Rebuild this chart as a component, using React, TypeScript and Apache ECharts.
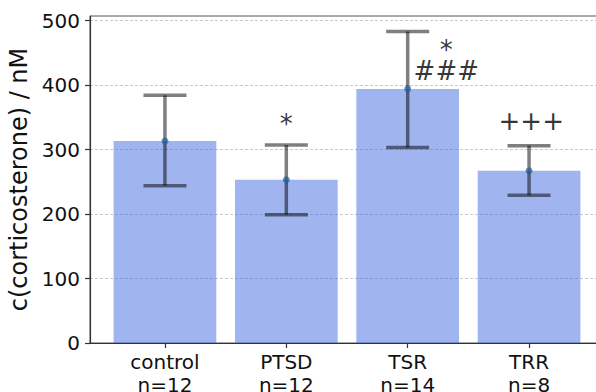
import React, { useEffect, useRef } from "react";
import * as echarts from "echarts";

const categories = ["control", "PTSD", "TSR", "TRR"];
const sampleSizes = [12, 12, 14, 8];
const means = [313, 253, 394, 267];
const errLow = [244, 199, 303, 229];
const errHigh = [384, 307, 483, 306];
const yTicks = [0, 100, 200, 300, 400, 500];
const xTicks = [0, 1, 2, 3];

const annotationText = ["*", "*", "###", "+++"];
const annotationX = [1.0, 2.318, 2.318, 3.018];
const annotationY = [339, 455, 421, 344];

const FONT = "DejaVu Sans";

export default function App() {
  const ref = useRef<HTMLDivElement>(null);
  useEffect(() => {
    if (!ref.current) return;
    const chart = echarts.init(ref.current, null, { renderer: "svg" });
    chart.setOption({
      animation: false,
      backgroundColor: "#ffffff",
      grid: {
        left: 90,
        top: 16,
        width: 514,
        height: 327,
        show: true,
        borderColor: "#555",
        borderWidth: 1,
        backgroundColor: "transparent",
        containLabel: false,
        outerBoundsMode: "none",
      },
      xAxis: {
        type: "value",
        min: -0.6175,
        max: 3.6175,
        splitLine: { show: false },
        axisLine: { show: true, onZero: false, lineStyle: { color: "#333", width: 1.2 } },
        axisTick: { show: true, customValues: xTicks, length: 5, lineStyle: { color: "#333", width: 1.2 } },
        axisLabel: {
          customValues: xTicks,
          margin: 7,
          fontSize: 20,
          fontFamily: FONT,
          color: "#111",
          lineHeight: 23,
          formatter: (v: number) => {
            const i = Math.round(v);
            return categories[i] + "\nn=" + sampleSizes[i];
          },
        },
      },
      yAxis: {
        type: "value",
        min: 0,
        max: 507,
        interval: 100,
        name: "c(corticosterone) / nM",
        nameLocation: "middle",
        nameGap: 47,
        nameTextStyle: { fontSize: 24, fontFamily: FONT, color: "#111" },
        axisLine: { show: true, onZero: false, lineStyle: { color: "#333", width: 1.2 } },
        axisTick: { show: true, customValues: yTicks, length: 5, lineStyle: { color: "#333", width: 1.2 } },
        axisLabel: {
          customValues: yTicks,
          margin: 10,
          fontSize: 20,
          fontFamily: FONT,
          color: "#111",
        },
        splitLine: {
          show: true,
          lineStyle: { color: "#bbbbbb", type: [3, 2], width: 0.8 },
        },
      },
      series: [
        {
          type: "bar",
          data: means.map((m, i) => [i, m]),
          barWidth: 102.7,
          itemStyle: { color: "rgba(65,105,225,0.5)" },
          z: 2,
        },
        {
          type: "custom",
          data: errLow.map((lo, i) => [i, lo, errHigh[i]]),
          encode: { x: 0, y: [1, 2] },
          z: 3,
          renderItem: (params: any, api: any) => {
            const x = api.value(0);
            const lo = api.coord([x, api.value(1)]);
            const hi = api.coord([x, api.value(2)]);
            const half = 21.5;
            const style = { stroke: "rgba(0,0,0,0.5)", lineWidth: 3.5 };
            return {
              type: "group",
              children: [
                { type: "line", shape: { x1: lo[0], y1: lo[1], x2: hi[0], y2: hi[1] }, style },
                { type: "line", shape: { x1: hi[0] - half, y1: hi[1], x2: hi[0] + half, y2: hi[1] }, style },
                { type: "line", shape: { x1: lo[0] - half, y1: lo[1], x2: lo[0] + half, y2: lo[1] }, style },
              ],
            };
          },
        },
        {
          type: "scatter",
          data: means.map((m, i) => [i, m]),
          symbolSize: 7,
          itemStyle: { color: "rgba(31,95,160,0.85)" },
          z: 4,
        },
        {
          type: "scatter",
          data: annotationText.map((t, i) => ({ value: [annotationX[i], annotationY[i]], name: t })),
          symbolSize: 0,
          z: 5,
          label: {
            show: true,
            position: "inside",
            formatter: (p: any) => p.name,
            fontSize: 26,
            lineHeight: 20,
            fontFamily: FONT,
            color: "#000",
          },
        },
      ],
    });
    return () => chart.dispose();
  }, []);
  return (
    <div
      ref={ref}
      style={{ position: "fixed", left: 0, top: 0, width: 596, height: 392, background: "#fff" }}
    />
  );
}
